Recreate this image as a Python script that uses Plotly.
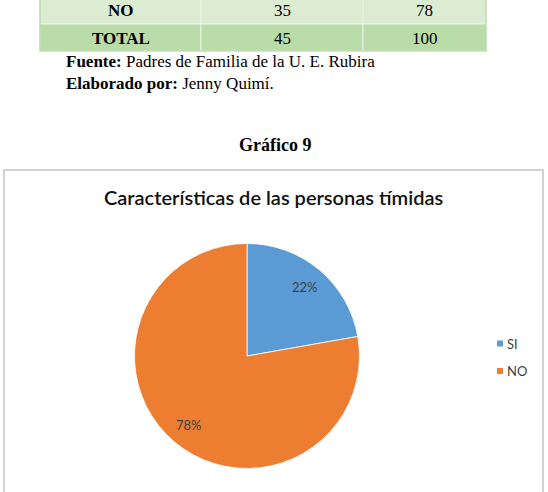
import math
import plotly.graph_objects as go

W, H = 548, 492

# ---- data ----
categories = ["SI", "NO"]
frequencies = [10, 35]
table_rows = ["NO", "TOTAL"]
table_freq = ["35", "45"]
table_pct = ["78", "100"]
colors = ["#5b9bd5", "#ed7d31"]
chart_title = "Características de las personas tímidas"
figure_caption = "Gráfico 9"
source_bold, source_text = "Fuente:", " Padres de Familia de la U. E. Rubira"
author_bold, author_text = "Elaborado por:", " Jenny Quimí."


def px(x):
    return x / W


def py(y):
    return 1 - y / H


# pie geometry (pixels)
cx, cy, rad = 247, 356, 112.5

fig = go.Figure()

fig.add_trace(go.Pie(
    labels=categories,
    values=frequencies,
    sort=False,
    direction="clockwise",
    rotation=0,
    marker=dict(colors=colors, line=dict(color="white", width=0.8)),
    textinfo="none",
    domain=dict(x=[px(cx - rad), px(cx + rad)], y=[py(cy + rad), py(cy - rad)]),
    showlegend=False,
    hoverinfo="label+value+percent",
))

shapes = []
annotations = []

# data labels placed at mid-angle of each slice (best-fit style)
total = sum(frequencies)
cum = 0
for i, v in enumerate(frequencies):
    mid = (cum + v / 2) / total * 2 * math.pi
    cum += v
    r = rad * 0.80
    annotations.append(dict(xref="paper", yref="paper",
                            x=px(cx + r * math.sin(mid)), y=py(cy - r * math.cos(mid)),
                            text="%d%%" % round(100 * v / total), showarrow=False,
                            xanchor="center", yanchor="middle",
                            font=dict(family="Lato", size=13, color="#404040")))

# ---- table ----
col_edges = [40, 201, 363, 486]
row_edges = [-4, 24, 51]
row_fills = ["#dcecd3", "#b9dca9"]
for r, label in enumerate(table_rows):
    cells = [label, table_freq[r], table_pct[r]]
    for c in range(3):
        shapes.append(dict(type="rect", xref="paper", yref="paper",
                           x0=px(col_edges[c]), x1=px(col_edges[c + 1]),
                           y0=py(row_edges[r + 1]), y1=py(row_edges[r]),
                           fillcolor=row_fills[r], line=dict(color="#eaf4e4", width=1),
                           layer="below"))
        txt = "<b>%s</b>" % cells[c] if c == 0 else cells[c]
        annotations.append(dict(xref="paper", yref="paper",
                                x=px((col_edges[c] + col_edges[c + 1]) / 2),
                                y=py((row_edges[r] + row_edges[r + 1]) / 2 + 1),
                                text=txt, showarrow=False, xanchor="center", yanchor="middle",
                                font=dict(family="Liberation Serif", size=17, color="black")))
shapes.append(dict(type="rect", xref="paper", yref="paper",
                   x0=px(40), x1=px(486), y0=py(51), y1=py(-4),
                   line=dict(color="#b2d59f", width=1.2), fillcolor="rgba(0,0,0,0)"))

# ---- source lines ----
annotations.append(dict(xref="paper", yref="paper", x=px(64), y=py(62),
                        text="<b>%s</b>%s" % (source_bold, source_text), showarrow=False,
                        xanchor="left", yanchor="middle",
                        font=dict(family="Liberation Serif", size=17, color="black")))
annotations.append(dict(xref="paper", yref="paper", x=px(64), y=py(83),
                        text="<b>%s</b>%s" % (author_bold, author_text), showarrow=False,
                        xanchor="left", yanchor="middle",
                        font=dict(family="Liberation Serif", size=17, color="black")))
annotations.append(dict(xref="paper", yref="paper", x=px(275), y=py(145),
                        text="<b>%s</b>" % figure_caption, showarrow=False,
                        xanchor="center", yanchor="middle",
                        font=dict(family="Liberation Serif", size=18, color="black")))

# ---- chart box ----
shapes.append(dict(type="rect", xref="paper", yref="paper",
                   x0=px(4), x1=px(543), y0=py(520), y1=py(170),
                   line=dict(color="#c4c4c4", width=1.5), fillcolor="rgba(0,0,0,0)"))
annotations.append(dict(xref="paper", yref="paper", x=px(273.5), y=py(197),
                        text=chart_title, showarrow=False,
                        xanchor="center", yanchor="middle",
                        font=dict(family="Lato", size=20, color="#111111", weight=600)))

# ---- legend ----
legend_y = [343.5, 371]
for i, cat in enumerate(categories):
    shapes.append(dict(type="rect", xref="paper", yref="paper",
                       x0=px(497), x1=px(503), y0=py(legend_y[i] + 3), y1=py(legend_y[i] - 3),
                       fillcolor=colors[i], line=dict(width=0)))
    annotations.append(dict(xref="paper", yref="paper", x=px(505), y=py(legend_y[i]),
                            text=cat, showarrow=False, xanchor="left", yanchor="middle",
                            font=dict(family="Lato", size=13, color="#404040")))

fig.update_layout(
    width=W, height=H,
    margin=dict(l=0, r=0, t=0, b=0),
    paper_bgcolor="white",
    plot_bgcolor="white",
    shapes=shapes,
    annotations=annotations,
)

fig.write_html("out.html")
